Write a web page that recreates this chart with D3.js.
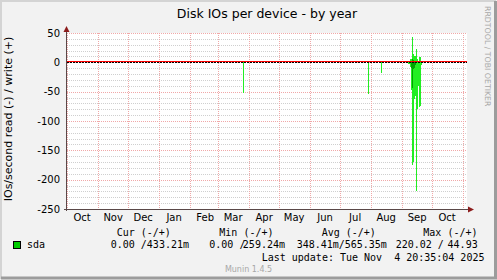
<!DOCTYPE html>
<html>
<head>
<meta charset="utf-8">
<title>Disk IOs per device - by year</title>
<script src="https://d3js.org/d3.v7.min.js"></script>
<style>
body{margin:0;background:#f2f2f2;}
text{font-family:"DejaVu Sans",sans-serif;fill:#000;}
.mono{font-family:"DejaVu Sans Mono",monospace;white-space:pre;}
</style>
</head>
<body>
<script>
var W=497,H=280;

// sda, IOs/second per day. read is drawn below zero, write above
var readDays=["2025-03-26","2025-07-29","2025-08-11","2025-09-07","2025-09-08","2025-09-09","2025-09-10",
    "2025-09-11","2025-09-12","2025-09-13","2025-09-14","2025-09-15","2025-09-16","2025-09-17",
    "2025-09-18","2025-09-19","2025-09-20"];
var readVals=[52,54,19,2,3,8,48,175,170,62,58,220,80,40,76,74,4];
var writeDays=["2025-05-06","2025-08-26","2025-09-07","2025-09-09","2025-09-10","2025-09-11","2025-09-12",
    "2025-09-13","2025-09-14","2025-09-15","2025-09-16","2025-09-17","2025-09-18","2025-09-19","2025-09-20"];
var writeVals=[3,2,2,6,6,44,15,10,10,22,5,3,9,9,1];
// darker overlay (average) inside the september cluster
var readAvgDays=["2025-09-10","2025-09-11","2025-09-12","2025-09-13","2025-09-14"];
var readAvgVals=[10,43,12,10,4];
var writeAvgDays=["2025-09-10","2025-09-11","2025-09-12","2025-09-13"];
var writeAvgVals=[3,5,4,3];

var yTicks=[50,0,-50,-100,-150,-200,-250];
var legendHead=["Cur (-/+)","Min (-/+)","Avg (-/+)","Max (-/+)"];
var legendVals=["0.00 /","433.21m","0.00 /","259.24m","348.41m/","565.35m","220.02 /","44.93"];

var parse=d3.timeParse("%Y-%m-%d");
var end=new Date(2025,10,4,20,35,4);
var start=d3.timeDay.offset(end,-400);

var x=d3.scaleTime().domain([start,end]).range([67,467]);
var y=d3.scaleLinear().domain([-250,50]).range([209,33]);

var svg=d3.select("body").append("svg")
    .attr("width",W).attr("height",H);

// background + frame
svg.append("rect").attr("width",W).attr("height",H).attr("fill","#f2f2f2");
svg.append("path").attr("d","M1,279V1H496").attr("fill","none").attr("stroke","#d4d4d4").attr("stroke-width",2);
svg.append("path").attr("d","M1,278H495.5V1").attr("fill","none").attr("stroke","#9c9c9c").attr("stroke-width",3);
svg.append("rect").attr("x",67).attr("y",33).attr("width",400).attr("height",176).attr("fill","#fff");

// minor grid (every 10)
var minor=d3.range(-240,50,10).filter(function(v){return v%50!==0;});
svg.selectAll(".ming").data(minor).enter().append("line")
    .attr("x1",67).attr("x2",467)
    .attr("y1",function(d){return Math.round(y(d))+0.5;})
    .attr("y2",function(d){return Math.round(y(d))+0.5;})
    .attr("stroke","#cfcfcf").attr("stroke-dasharray","1,1");

// major grid
svg.selectAll(".majg").data(yTicks.filter(function(v){return v!==-250;})).enter().append("line")
    .attr("x1",67).attr("x2",467)
    .attr("y1",function(d){return Math.round(y(d))+0.5;})
    .attr("y2",function(d){return Math.round(y(d))+0.5;})
    .attr("stroke","#f0a8a8").attr("stroke-dasharray","1,1");

var months=d3.timeMonth.range(d3.timeMonth.ceil(start),end);
svg.selectAll(".vg").data(months).enter().append("line")
    .attr("x1",function(d){return Math.floor(x(d))+0.5;})
    .attr("x2",function(d){return Math.floor(x(d))+0.5;})
    .attr("y1",33).attr("y2",209)
    .attr("stroke","#f0a8a8").attr("stroke-dasharray","1,1");

// data bars, one day wide
function bars(days,vals,sign,color){
    var g=svg.append("g").attr("shape-rendering","crispEdges");
    g.selectAll("rect").data(days).enter().append("rect")
        .attr("x",function(d){return x(parse(d));})
        .attr("width",function(d){var t=parse(d);return x(d3.timeDay.offset(t,1))-x(t);})
        .attr("y",function(d,i){return Math.min(y(0),y(sign*vals[i]));})
        .attr("height",function(d,i){return Math.abs(y(sign*vals[i])-y(0));})
        .attr("fill",color);
}
bars(readDays,readVals,-1,"#22ee22");
bars(writeDays,writeVals,1,"#22ee22");
bars(readAvgDays,readAvgVals,-1,"#00a200");
bars(writeAvgDays,writeAvgVals,1,"#00a200");

// zero line
var y0=Math.round(y(0));
svg.append("line").attr("x1",67).attr("x2",467).attr("y1",y0-0.5).attr("y2",y0-0.5)
    .attr("stroke","#ff0000");
svg.append("line").attr("x1",67).attr("x2",467).attr("y1",y0+0.5).attr("y2",y0+0.5)
    .attr("stroke","#000").attr("stroke-dasharray","2,1");

// axes
svg.append("line").attr("x1",66.5).attr("x2",66.5).attr("y1",211).attr("y2",29)
    .attr("stroke","#5a4848");
svg.append("line").attr("x1",64).attr("x2",470).attr("y1",209.5).attr("y2",209.5)
    .attr("stroke","#5a4848");
svg.append("path").attr("d","M63.5,32L69.5,32L66.5,26Z").attr("fill","#8c1c1c");
svg.append("path").attr("d","M468,206.5L468,212.5L474,209.5Z").attr("fill","#8c1c1c");

// tick labels
svg.selectAll(".yl").data(yTicks).enter().append("text")
    .attr("x",60).attr("y",function(d){return y(d)+3.7;})
    .attr("text-anchor","end").style("font-size","10px")
    .text(function(d){return d;});

svg.selectAll(".xl").data(months.filter(function(d){return d3.timeDay.offset(d,15)<end;})).enter().append("text")
    .attr("x",function(d){return x(d3.timeDay.offset(d,15));})
    .attr("y",221).attr("text-anchor","middle").style("font-size","10px")
    .text(d3.timeFormat("%b"));

// titles
svg.append("text").attr("x",267).attr("y",18).attr("text-anchor","middle")
    .style("font-size","12.5px").text("Disk IOs per device - by year");
svg.append("text").attr("transform","translate(12,119) rotate(-90)").attr("text-anchor","middle")
    .style("font-size","11px").text("IOs/second read (-) / write (+)");
svg.append("text").attr("transform","translate(485,6) rotate(90)")
    .style("font-size","7.8px").style("fill","#a8a8a8").text("RRDTOOL / TOBI OETIKER");

// legend
svg.append("rect").attr("x",13.5).attr("y",241.5).attr("width",7).attr("height",7)
    .attr("fill","#00cc00").attr("stroke","#000");
svg.append("text").attr("class","mono").attr("x",27).attr("y",248).style("font-size","10px").text("sda");

var headX=[116.7,219.3,321.7,423.3];
svg.selectAll(".lh").data(legendHead).enter().append("text").attr("class","mono")
    .attr("x",function(d,i){return headX[i];}).attr("y",236).style("font-size","10px")
    .text(function(d){return d;});

var valX=[110.7,189,209.3,285,296.7,386.8,395.7,477.7];
svg.selectAll(".lv").data(legendVals).enter().append("text").attr("class","mono")
    .attr("x",function(d,i){return valX[i];}).attr("y",248)
    .attr("text-anchor",function(d,i){return i%2?"end":"start";})
    .style("font-size","10px")
    .text(function(d){return d;});

svg.append("text").attr("class","mono").attr("x",261.7).attr("y",260.5).style("font-size","10px")
    .text("Last update: Tue Nov  4 20:35:04 2025");
svg.append("text").attr("x",248.5).attr("y",272).attr("text-anchor","middle")
    .style("font-size","8px").style("fill","#a8a8a8").text("Munin 1.4.5");
</script>
</body>
</html>
